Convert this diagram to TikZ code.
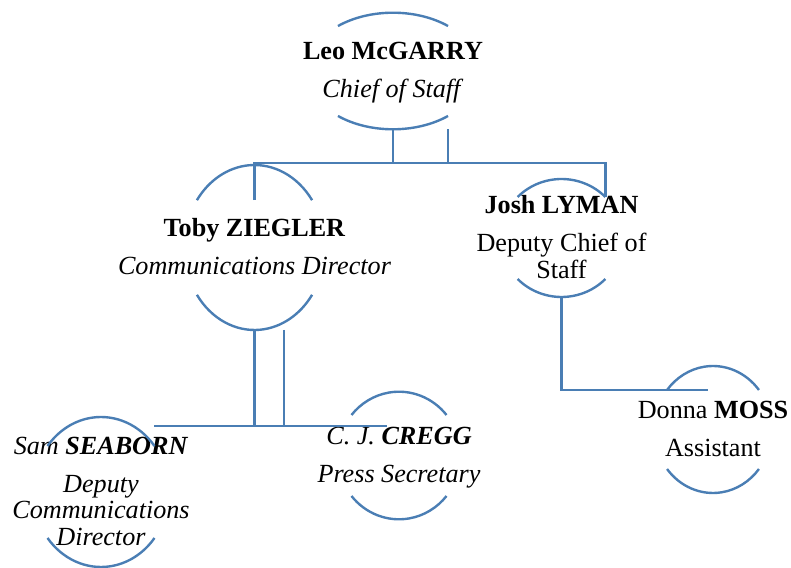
\documentclass[tikz,border=0pt]{standalone}
\usepackage{fontspec}
\setmainfont{Liberation Serif}
\usepackage{xcolor}
\usetikzlibrary{calc}

\definecolor{orgblue}{RGB}{74,126,180}

% taller strut for the first line of a name block
\newcommand\hstrut{\rule{0pt}{17pt}}

% two arcs of an ellipse round a name: #2, #3 radii, #4 angle where the arcs stop
\newcommand\namearcs[4]{%
  \draw[arcline] (#1.center) ++(#4:#2 and #3) arc[start angle=#4, end angle=180-#4, x radius=#2, y radius=#3];
  \draw[arcline] (#1.center) ++(180+#4:#2 and #3) arc[start angle=180+#4, end angle=360-#4, x radius=#2, y radius=#3];
  \coordinate (#1-bot) at ($(#1.center)+(0,-#3)$);
  \coordinate (#1-n) at ($(#1.center)+(0,{#3*sin(#4)})$);
  \coordinate (#1-ne) at ($(#1.center)+(#4:#2 and #3)$);
}

\begin{document}
\begin{tikzpicture}[
    x=0.025cm, y=0.025cm,
    person/.style={align=center, inner sep=0pt, font=\fontsize{18.6pt}{19.1pt}\selectfont},
    arcline/.style={draw=orgblue, line width=1.7pt},
    link/.style={draw=orgblue, line width=1.7pt}
]
\useasboundingbox (0,0) rectangle (791,567);

\node[person] (leo) at (393,496) {\hstrut\textbf{Leo McGARRY}\\[8pt]\textit{Chief of Staff}\strut};
\node[person] (toby) at (254.5,319.5) {\hstrut\textbf{Toby ZIEGLER}\\[8pt]\textit{Communications Director}\strut};
\node[person] (josh) at (561.5,329) {\hstrut\textbf{Josh LYMAN}\\[8pt]Deputy Chief of\\Staff\strut};
\node[person] (donna) at (713,137.5) {\hstrut Donna \textbf{MOSS}\\[8pt]Assistant\strut};
\node[person] (sam) at (101,75) {\hstrut\textit{Sam \textbf{SEABORN}}\\[8pt]\textit{Deputy}\\\textit{Communications}\\\textit{Director}\strut};
\node[person] (cj) at (399,111.5) {\hstrut\textit{C. J. \textbf{CREGG}}\\[8pt]\textit{Press Secretary}\strut};

\namearcs{leo}{86.5}{58.3}{50.5}
\namearcs{toby}{70.3}{82.5}{35}
\namearcs{josh}{61}{59}{44}
\namearcs{donna}{58.7}{63.5}{38.5}
\namearcs{sam}{67.7}{75}{37.8}
\namearcs{cj}{61.5}{63.8}{39.4}

\coordinate (leo-bar) at (393,404);
\coordinate (toby-bar) at (254.5,141);

% chief of staff to his deputies
\draw[link] (leo-bot) -- (leo-bar);
\draw[link] ($(leo-bot)+(55,0)$) -- ($(leo-bar)+(55,0)$);
\draw[link] (toby-n) |- (leo-bar) -| (josh-ne);

% communications office
\draw[link] (toby-bot) -- (toby-bar);
\draw[link] ($(toby-bot)+(29.5,0)$) -- ($(toby-bar)+(29.5,0)$);
\draw[link] (sam-ne |- toby-bar) -- ($(cj-n |- toby-bar)+(-12,0)$);

% deputy chief of staff to assistant
\draw[link] (josh-bot) |- ($(donna-n)+(-5,0)$);
\end{tikzpicture}
\end{document}
